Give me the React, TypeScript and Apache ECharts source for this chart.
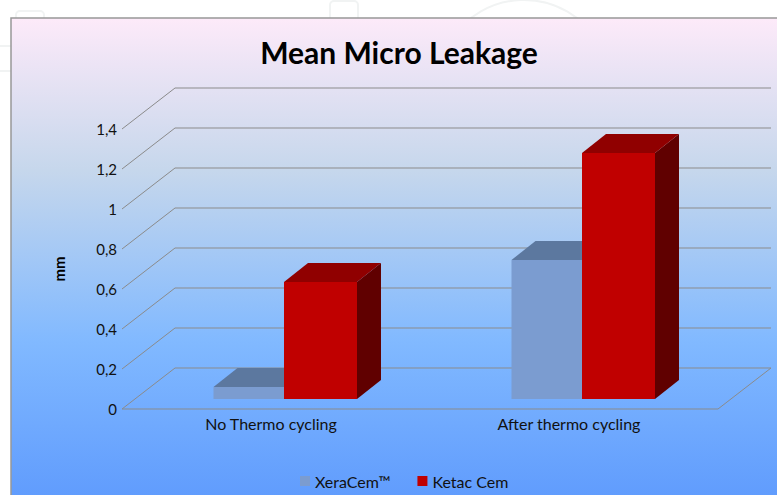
import React, { useEffect, useRef } from "react";
import * as echarts from "echarts";

const categories = ["No Thermo cycling", "After thermo cycling"];
const xeraCem = [0.06, 0.695];
const ketacCem = [0.585, 1.23];
const yTicks = [0, 0.2, 0.4, 0.6, 0.8, 1, 1.2, 1.4];

const WALL_DX = 53;
const WALL_DY = -41;
const BAR_DX = 13;
const BAR_DY = -10;
const DEPTH_DX = 24;
const DEPTH_DY = -19;

function barRenderer(side: number, width: number, front: string, top: string, right: string) {
  return (_params: any, api: any) => {
    const [cx, yTop] = api.coord([api.value(0), api.value(1)]);
    const [, yBase] = api.coord([api.value(0), 0]);
    const x0 = cx + BAR_DX + (side < 0 ? -width : 0);
    const x1 = x0 + width;
    const yt = yTop + BAR_DY;
    const yb = yBase + BAR_DY;
    const poly = (points: number[][], fill: string) => ({
      type: "polygon",
      shape: { points },
      style: { fill, stroke: "none" },
    });
    return {
      type: "group",
      children: [
        poly(
          [[x1, yt], [x1 + DEPTH_DX, yt + DEPTH_DY], [x1 + DEPTH_DX, yb + DEPTH_DY], [x1, yb]],
          right,
        ),
        poly(
          [[x0, yt], [x0 + DEPTH_DX, yt + DEPTH_DY], [x1 + DEPTH_DX, yt + DEPTH_DY], [x1, yt]],
          top,
        ),
        poly([[x0, yt], [x1, yt], [x1, yb], [x0, yb]], front),
      ],
    };
  };
}

function wallLine(params: any, api: any) {
  const v = api.value(0);
  const [, y] = api.coord([0, v]);
  const cs = params.coordSys;
  const left = cs.x;
  const right = cs.x + cs.width;
  const isFloor = v === 0;
  const lineStyle = { stroke: "#8b8b8b", lineWidth: 1, fill: "none" };
  const children: any[] = [
    {
      type: "polyline",
      shape: {
        points: [
          [left, y],
          [left + WALL_DX, y + WALL_DY],
          [right + WALL_DX, y + WALL_DY],
        ],
      },
      style: lineStyle,
    },
  ];
  if (isFloor) {
    children.push({
      type: "polyline",
      shape: {
        points: [
          [left, y],
          [right, y],
          [right + WALL_DX, y + WALL_DY],
        ],
      },
      style: lineStyle,
    });
  }
  return { type: "group", children };
}

export default function App() {
  const ref = useRef<HTMLDivElement>(null);
  useEffect(() => {
    const chart = echarts.init(ref.current!, undefined, { renderer: "svg" });
    const faint = { stroke: "#f1f3f3", lineWidth: 2, fill: "none" };
    chart.setOption({
      animation: false,
      backgroundColor: "#ffffff",
      textStyle: { fontFamily: "Lato" },
      graphic: [
        { type: "rect", z: -5, shape: { x: 16, y: 11, width: 28, height: 30, r: 4 }, style: faint },
        { type: "rect", z: -5, shape: { x: 330, y: 1, width: 28, height: 30, r: 4 }, style: faint },
        { type: "line", z: -5, shape: { x1: 0, y1: 46, x2: 12, y2: 46 }, style: faint },
        { type: "line", z: -5, shape: { x1: 0, y1: 71, x2: 12, y2: 71 }, style: faint },
        { type: "circle", z: -5, shape: { cx: 524, cy: 87, r: 87 }, style: faint },
        {
          type: "rect",
          z: -1,
          shape: { x: 11, y: 18, width: 780, height: 490 },
          style: {
            stroke: "#989898",
            lineWidth: 1.5,
            fill: {
              type: "linear",
              x: 0,
              y: 0,
              x2: 0,
              y2: 1,
              colorStops: [
                { offset: 0, color: "#fdeaf9" },
                { offset: 0.31, color: "#c6d7ec" },
                { offset: 0.66, color: "#81b9ff" },
                { offset: 1, color: "#5e9afd" },
              ],
            },
          },
        },
      ],
      title: {
        text: "Mean Micro Leakage",
        left: 394,
        top: 32,
        textAlign: "center",
        textStyle: { fontFamily: "Lato", fontSize: 30, fontWeight: "bold", color: "#000" },
      },
      legend: {
        data: ["XeraCem™", "Ketac Cem"],
        left: 295,
        top: 468,
        itemWidth: 10,
        itemHeight: 10,
        itemGap: 27,
        icon: "rect",
        textStyle: { fontFamily: "Lato", fontSize: 16, color: "#111", padding: [0, 0, 0, 0] },
      },
      grid: { left: 122, right: 59, top: 129, bottom: 86 },
      xAxis: {
        type: "category",
        data: categories,
        axisTick: { show: false },
        axisLine: { show: false },
        axisLabel: { fontFamily: "Lato", fontSize: 16, color: "#111", margin: 6 },
      },
      yAxis: {
        type: "value",
        min: 0,
        max: 1.4,
        interval: 0.2,
        name: "mm",
        nameLocation: "middle",
        nameGap: 56,
        nameTextStyle: { fontFamily: "Lato", fontSize: 15, fontWeight: "bold", color: "#000" },
        axisLine: { show: false },
        axisTick: { show: false },
        splitLine: { show: false },
        axisLabel: {
          fontFamily: "Lato",
          fontSize: 15,
          color: "#111",
          margin: 5,
          formatter: (v: number) => String(Number(v.toFixed(1))).replace(".", ","),
        },
      },
      series: [
        {
          type: "custom",
          name: "walls",
          z: 1,
          silent: true,
          clip: false,
          data: yTicks.map((v) => [v]),
          encode: { y: 0 },
          renderItem: wallLine,
        },
        {
          type: "custom",
          name: "XeraCem™",
          z: 2,
          clip: false,
          itemStyle: { color: "#7b9cd0" },
          data: xeraCem.map((v, i) => [i, v]),
          encode: { x: 0, y: 1 },
          renderItem: barRenderer(-1, 70.5, "#7b9cd0", "#5c789f", "#4c6a94"),
        },
        {
          type: "custom",
          name: "Ketac Cem",
          z: 3,
          clip: false,
          itemStyle: { color: "#c00000" },
          data: ketacCem.map((v, i) => [i, v]),
          encode: { x: 0, y: 1 },
          renderItem: barRenderer(1, 73, "#c00000", "#900000", "#600000"),
        },
      ],
    });
    return () => chart.dispose();
  }, []);
  return (
    <div
      ref={ref}
      style={{ position: "fixed", left: 0, top: 0, width: 777, height: 495 }}
    />
  );
}
